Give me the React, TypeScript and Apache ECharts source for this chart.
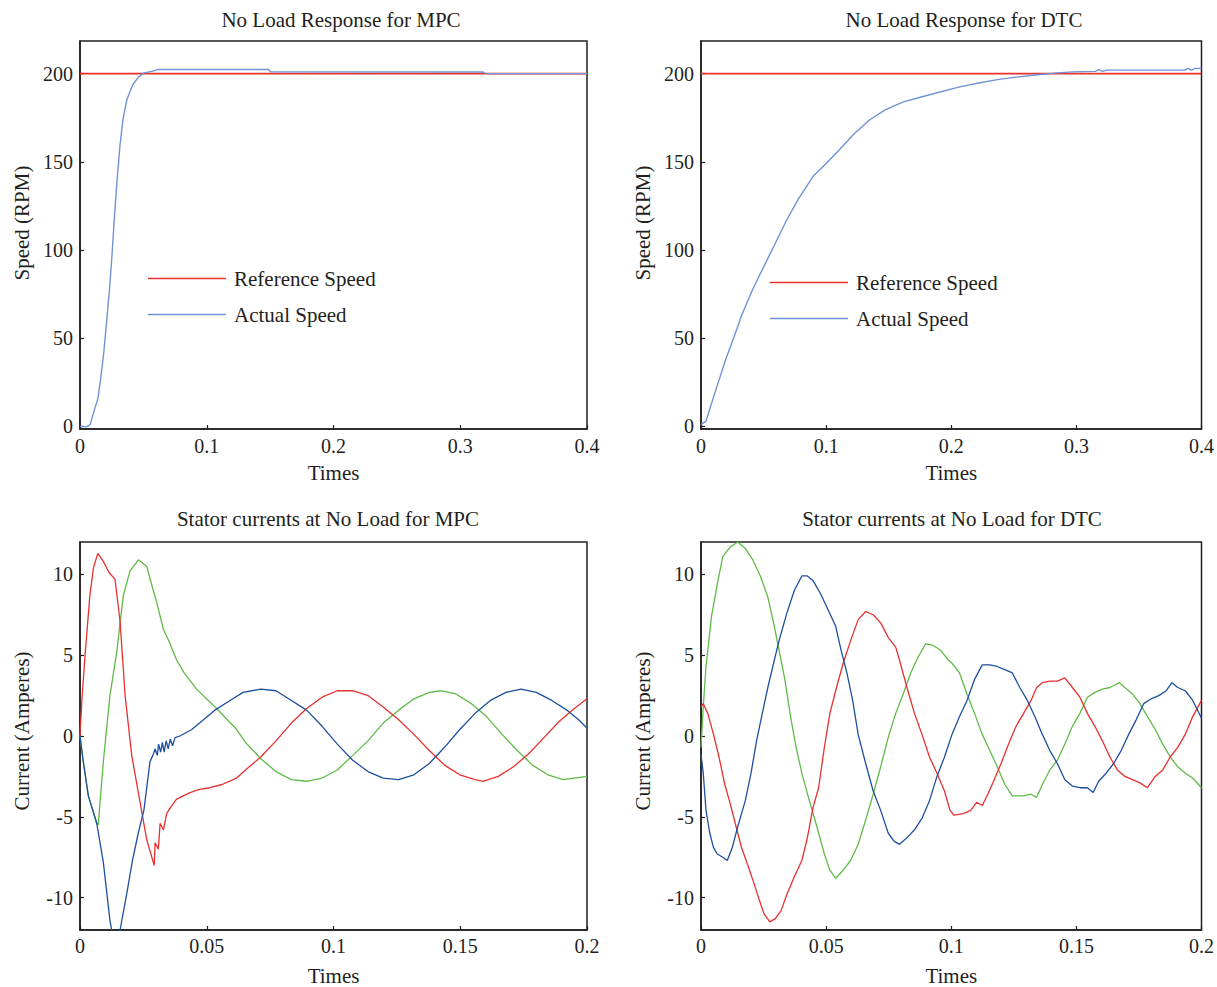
import React, { useEffect, useRef } from "react";
import * as echarts from "echarts";

const FONT = "Liberation Serif";
const INK = "#231f20";
const RED = "#e8302f";
const GREEN = "#5fbb46";
const BLUE = "#1d4f9f";
const SPEED_BLUE = "#6f93d6";

const titles = [
  "No Load Response for MPC",
  "No Load Response for DTC",
  "Stator currents at No Load for MPC",
  "Stator currents at No Load for DTC",
];
const legendNames = ["Reference Speed", "Actual Speed"];

const speedTicks = [0, 50, 100, 150, 200];
const currentTicks = [-10, -5, 0, 5, 10];

// [time, rpm]
const referenceSpeed = [
  [0, 200],
  [0.4, 200],
];
const mpcSpeed = [
  [0, 0], [0.005, -0.3], [0.008, 1], [0.011, 8.5], [0.0142, 16], [0.0163, 27],
  [0.0188, 42], [0.0212, 61], [0.0233, 78], [0.0254, 98.6], [0.0272, 119],
  [0.0293, 140], [0.0315, 159], [0.0339, 174], [0.0369, 185], [0.0414, 193.4],
  [0.046, 198], [0.0505, 200.4], [0.0566, 201.3], [0.0611, 202.3], [0.149, 202.3],
  [0.15, 201.1], [0.318, 200.9], [0.32, 200], [0.4, 200],
];
const dtcSpeed = [
  [0, 1], [0.004, 3], [0.0114, 19.7], [0.02, 38.5], [0.026, 50], [0.0325, 63],
  [0.0415, 78], [0.0505, 91], [0.0595, 104], [0.0685, 117], [0.0775, 128.6],
  [0.0896, 141.8], [0.1, 149], [0.1106, 156.8], [0.1226, 166], [0.1347, 173.7],
  [0.1467, 179.3], [0.1617, 184], [0.1767, 186.9], [0.1918, 189.7], [0.2068, 192.5],
  [0.2218, 194.7], [0.2369, 196.6], [0.252, 198], [0.267, 199.2], [0.285, 200.4],
  [0.297, 201], [0.315, 201.3], [0.318, 202.3], [0.321, 201.3], [0.324, 202],
  [0.387, 202], [0.389, 203], [0.392, 202], [0.395, 203], [0.4, 203],
];

// [time, amperes] MPC
const mpcIa = [
  [0, 0], [0.0007, 2.1], [0.002, 5], [0.0039, 8.7], [0.0053, 10.4], [0.007, 11.3],
  [0.0092, 10.8], [0.0115, 10.1], [0.0138, 9.7], [0.0158, 7.1], [0.0178, 2.5],
  [0.0204, -1.2], [0.0237, -4.1], [0.0263, -6.4], [0.0289, -7.8], [0.0293, -8],
  [0.0296, -6.6], [0.0309, -7], [0.0316, -5.4], [0.0329, -5.8], [0.0342, -4.8],
  [0.0358, -4.4], [0.0381, -3.9], [0.0434, -3.5], [0.0471, -3.3], [0.0513, -3.2],
  [0.056, -3.0], [0.0618, -2.6], [0.0653, -2.1], [0.0713, -1.3], [0.0773, -0.3],
  [0.0834, 0.8], [0.0894, 1.7], [0.0955, 2.4], [0.1015, 2.8], [0.1076, 2.8],
  [0.1136, 2.5], [0.1196, 1.8], [0.1257, 1], [0.1317, 0.1], [0.1378, -0.9],
  [0.1438, -1.8], [0.1498, -2.4], [0.1559, -2.7], [0.159, -2.8], [0.165, -2.5],
  [0.171, -1.9], [0.177, -1.1], [0.183, -0.1], [0.189, 0.9], [0.195, 1.7], [0.2, 2.3],
];
const mpcIb = [
  [0, 0], [0.0013, -1.6], [0.0033, -3.7], [0.0066, -5.4], [0.0072, -5.5],
  [0.0092, -1.6], [0.0118, 2.5], [0.0145, 5.2], [0.0171, 8.7], [0.0197, 10.2],
  [0.023, 10.9], [0.0263, 10.5], [0.0282, 9.4], [0.0302, 8.3], [0.0329, 6.6],
  [0.035, 5.9], [0.0381, 4.7], [0.0411, 3.9], [0.046, 2.9], [0.0539, 1.7],
  [0.0618, 0.4], [0.0653, -0.4], [0.0713, -1.4], [0.0773, -2.2], [0.0834, -2.7],
  [0.0894, -2.8], [0.0955, -2.6], [0.1015, -2.1], [0.1076, -1.2], [0.1136, -0.3],
  [0.1196, 0.8], [0.1257, 1.6], [0.1317, 2.3], [0.1378, 2.7], [0.1423, 2.8],
  [0.1483, 2.6], [0.1544, 2], [0.1604, 1.2], [0.1665, 0.1], [0.1725, -0.9],
  [0.1785, -1.8], [0.1846, -2.4], [0.1906, -2.7], [0.2, -2.5],
];
const mpcIc = [
  [0, 0], [0.0013, -1.6], [0.0033, -3.7], [0.0066, -5.4], [0.0092, -7.8],
  [0.0118, -11.4], [0.014, -13.3], [0.0158, -12], [0.0184, -9.8], [0.0207, -7.7],
  [0.023, -6], [0.0252, -4.6], [0.0276, -1.6], [0.029, -1.1], [0.0296, -0.8],
  [0.0305, -1.2], [0.031, -0.5], [0.0318, -1], [0.0325, -0.4], [0.0332, -1],
  [0.034, -0.3], [0.0348, -0.8], [0.0356, -0.2], [0.0365, -0.6], [0.0375, -0.1],
  [0.0394, 0], [0.0441, 0.4], [0.0487, 1], [0.0532, 1.6], [0.0592, 2.2],
  [0.0643, 2.7], [0.0713, 2.9], [0.0773, 2.8], [0.0834, 2.2], [0.0894, 1.6],
  [0.0955, 0.6], [0.1015, -0.5], [0.1076, -1.5], [0.1136, -2.2], [0.1196, -2.6],
  [0.1257, -2.7], [0.1317, -2.4], [0.1378, -1.7], [0.1438, -0.7], [0.1498, 0.4],
  [0.1559, 1.4], [0.1619, 2.2], [0.168, 2.7], [0.174, 2.9], [0.18, 2.7],
  [0.1861, 2.2], [0.1921, 1.6], [0.1967, 1], [0.2, 0.5],
];

// [time, amperes] DTC
const dtcIa = [
  [0, 1.8], [0.0009, 2], [0.0027, 1.4], [0.005, 0.1], [0.0072, -1.3], [0.0095, -3],
  [0.0117, -4.2], [0.014, -5.6], [0.0162, -6.9], [0.0185, -7.9], [0.0207, -8.9],
  [0.023, -10], [0.0252, -11], [0.0275, -11.5], [0.0297, -11.3], [0.032, -10.8],
  [0.0343, -9.8], [0.0373, -8.7], [0.0403, -7.7], [0.0425, -6.3], [0.0448, -4.4],
  [0.047, -3.2], [0.0493, -0.7], [0.0515, 1.4], [0.0538, 2.8], [0.0568, 4.5],
  [0.0598, 5.9], [0.0628, 7.2], [0.0658, 7.7], [0.0688, 7.5], [0.0718, 7],
  [0.0748, 6.1], [0.0778, 5.5], [0.0793, 4.7], [0.0823, 3], [0.0853, 1.4],
  [0.0883, 0.1], [0.0913, -1.3], [0.0943, -2.3], [0.0973, -3.4], [0.0995, -4.6],
  [0.1011, -4.9], [0.1048, -4.8], [0.1078, -4.6], [0.1101, -4.1], [0.1124, -4.3],
  [0.1146, -3.6], [0.1169, -2.8], [0.1199, -1.7], [0.1229, -0.5], [0.1259, 0.6],
  [0.1289, 1.4], [0.1319, 2.2], [0.1341, 3], [0.1364, 3.3], [0.1394, 3.4],
  [0.1424, 3.4], [0.1454, 3.6], [0.1484, 3], [0.1514, 2.4], [0.1544, 1.4],
  [0.1574, 0.6], [0.1604, -0.3], [0.1634, -1.3], [0.1664, -2.1], [0.1694, -2.5],
  [0.1724, -2.7], [0.1754, -2.9], [0.1784, -3.2], [0.1815, -2.5], [0.1845, -2.1],
  [0.1875, -1.3], [0.1905, -0.7], [0.1935, 0.1], [0.1965, 1.2], [0.2, 2.2],
];
const dtcIb = [
  [0, -0.7], [0.0009, 1.8], [0.002, 4.3], [0.0042, 7.4], [0.0065, 9.4], [0.0087, 11.1],
  [0.0117, 11.7], [0.0147, 12], [0.0177, 11.6], [0.0207, 10.9], [0.0237, 9.9],
  [0.0267, 8.6], [0.029, 7], [0.0312, 5.3], [0.0335, 3.5], [0.0358, 1.2],
  [0.038, -0.7], [0.0403, -2.3], [0.0433, -4], [0.0463, -5.6], [0.0493, -7.3],
  [0.0515, -8.3], [0.0538, -8.8], [0.0568, -8.3], [0.0598, -7.7], [0.0628, -6.7],
  [0.0658, -5.2], [0.0688, -3.6], [0.0718, -1.9], [0.0748, -0.1], [0.0778, 1.4],
  [0.0808, 2.6], [0.0838, 3.9], [0.0868, 4.9], [0.0898, 5.7], [0.0928, 5.6],
  [0.0958, 5.3], [0.0988, 4.7], [0.1003, 4.5], [0.1033, 3.9], [0.1063, 2.6],
  [0.1093, 1.4], [0.1124, 0.1], [0.1154, -0.9], [0.1184, -1.9], [0.1214, -3],
  [0.1244, -3.7], [0.1289, -3.7], [0.1319, -3.6], [0.1341, -3.8], [0.1364, -3],
  [0.1394, -2.1], [0.1424, -1.5], [0.1454, -0.5], [0.1484, 0.6], [0.1514, 1.4],
  [0.1544, 2.4], [0.1574, 2.7], [0.1604, 2.9], [0.1634, 3], [0.1672, 3.3],
  [0.1694, 3], [0.1724, 2.6], [0.1754, 2], [0.1784, 1.2], [0.1815, 0.4],
  [0.1845, -0.5], [0.1875, -1.3], [0.1905, -1.9], [0.1935, -2.3], [0.1965, -2.6],
  [0.2, -3.2],
];
const dtcIc = [
  [0, -1.1], [0.0009, -2.3], [0.002, -4.6], [0.0035, -6], [0.005, -6.9], [0.0065, -7.3],
  [0.0087, -7.5], [0.0105, -7.7], [0.0125, -6.9], [0.0147, -5.6], [0.0177, -4],
  [0.02, -2.3], [0.0222, -0.3], [0.0245, 1.4], [0.0267, 3], [0.029, 4.5],
  [0.0312, 5.9], [0.0343, 7.6], [0.0373, 9], [0.0403, 9.9], [0.0425, 9.9],
  [0.0448, 9.6], [0.0478, 8.8], [0.0508, 7.8], [0.0538, 6.8], [0.056, 5.3],
  [0.0583, 3.9], [0.0606, 2.2], [0.0628, 0.1], [0.0658, -1.7], [0.0688, -3.4],
  [0.0718, -4.6], [0.0748, -6], [0.0771, -6.5], [0.0793, -6.7], [0.0823, -6.3],
  [0.0853, -5.8], [0.0883, -5.1], [0.0913, -4], [0.0943, -2.5], [0.0973, -1.3],
  [0.1003, 0.1], [0.1033, 1.2], [0.1063, 2.2], [0.1093, 3.5], [0.1124, 4.4],
  [0.1154, 4.4], [0.1184, 4.3], [0.1214, 4.1], [0.1244, 3.9], [0.1274, 3],
  [0.1304, 2.2], [0.1334, 1.2], [0.1364, 0.1], [0.1394, -0.9], [0.1424, -1.7],
  [0.1454, -2.7], [0.1484, -3.1], [0.1514, -3.2], [0.1544, -3.2], [0.1567, -3.5],
  [0.1589, -2.8], [0.1619, -2.3], [0.1649, -1.7], [0.1679, -0.9], [0.1709, 0.1],
  [0.1739, 1], [0.1769, 2], [0.1799, 2.3], [0.1829, 2.5], [0.1859, 2.8],
  [0.1882, 3.3], [0.1905, 3], [0.1935, 2.8], [0.1965, 2.2], [0.2, 1.1],
];

const gridBoxes = [
  { left: 80, top: 41, width: 507, height: 388 },
  { left: 701, top: 41, width: 507, height: 388 },
  { left: 80, top: 542, width: 507, height: 389 },
  { left: 701, top: 542, width: 507, height: 389 },
];
const titlePos = [
  { x: 341, y: 9 },
  { x: 964, y: 9 },
  { x: 328, y: 508 },
  { x: 952, y: 508 },
];

export default function App() {
  const ref = useRef<HTMLDivElement>(null);
  useEffect(() => {
    if (!ref.current) return;
    const chart = echarts.init(ref.current, undefined, { renderer: "svg" });
    const textBase = { fontFamily: FONT, color: INK, fontSize: 20 };
    const textBig = { fontFamily: FONT, color: INK, fontSize: 21 };

    const xAxis = gridBoxes.map((_, i) => {
      const top = i < 2;
      return {
        type: "value",
        gridIndex: i,
        min: 0,
        max: top ? 0.4 : 0.2,
        interval: top ? 0.1 : 0.05,
        name: "Times",
        nameLocation: "middle",
        nameGap: top ? 33 : 35,
        nameTextStyle: { ...textBig },
        axisLine: { show: true, onZero: false, lineStyle: { color: INK, width: 1.5 } },
        axisTick: { show: true, inside: true, length: 4, lineStyle: { color: INK, width: 1.2 } },
        axisLabel: { ...textBase, margin: top ? 7 : 6 },
        splitLine: { show: false },
      };
    });
    const yAxis = gridBoxes.map((_, i) => {
      const top = i < 2;
      const ticks = top ? speedTicks : currentTicks;
      return {
        type: "value",
        gridIndex: i,
        min: top ? -1.5 : -12,
        max: top ? 218.5 : 12,
        name: top ? "Speed (RPM)" : "Current (Amperes)",
        nameLocation: "middle",
        nameGap: 48,
        nameTextStyle: { ...textBig, padding: top ? [0, 0, 0, 24] : [0, 0, 0, 10] },
        axisLine: { show: true, onZero: false, lineStyle: { color: INK, width: 1.5 } },
        axisTick: {
          show: true,
          inside: true,
          length: 4,
          customValues: ticks,
          lineStyle: { color: INK, width: 1.2 },
        },
        axisLabel: { ...textBase, margin: 7, customValues: ticks },
        splitLine: { show: false },
      };
    });

    const line = (name: string, data: number[][], color: string, idx: number, width = 1.3) => ({
      type: "line",
      name,
      data,
      xAxisIndex: idx,
      yAxisIndex: idx,
      showSymbol: false,
      symbol: "none",
      lineStyle: { color, width },
      itemStyle: { color },
      clip: true,
    });

    const legendCommon = {
      orient: "vertical",
      icon: "rect",
      itemWidth: 78,
      itemHeight: 1.6,
      itemGap: 15,
      padding: 0,
      data: legendNames,
      selectedMode: false,
      textStyle: { ...textBig, lineHeight: 21, padding: [0, 0, 0, 3] },
    };

    chart.setOption({
      animation: false,
      backgroundColor: "#ffffff",
      title: titles.map((t, i) => ({
        text: t,
        left: titlePos[i].x,
        top: titlePos[i].y,
        textAlign: "center",
        padding: 0,
        textStyle: { ...textBig, fontWeight: "normal" },
      })),
      grid: gridBoxes.map((g) => ({
        ...g,
        show: true,
        borderColor: INK,
        borderWidth: 1.5,
        backgroundColor: "transparent",
      })),
      legend: [
        { ...legendCommon, left: 148, top: 268 },
        { ...legendCommon, left: 770, top: 272 },
      ],
      xAxis,
      yAxis,
      series: [
        line("Reference Speed", referenceSpeed, RED, 0, 1.8),
        line("Actual Speed", mpcSpeed, SPEED_BLUE, 0, 1.4),
        line("Reference Speed", referenceSpeed, RED, 1, 1.8),
        line("Actual Speed", dtcSpeed, SPEED_BLUE, 1, 1.4),
        line("Ib MPC", mpcIb, GREEN, 2),
        line("Ia MPC", mpcIa, RED, 2),
        line("Ic MPC", mpcIc, BLUE, 2),
        line("Ib DTC", dtcIb, GREEN, 3),
        line("Ia DTC", dtcIa, RED, 3),
        line("Ic DTC", dtcIc, BLUE, 3),
      ],
    });
    return () => chart.dispose();
  }, []);

  return (
    <div
      ref={ref}
      style={{ position: "absolute", left: 0, top: 0, width: 1217, height: 987, background: "#fff" }}
    />
  );
}
